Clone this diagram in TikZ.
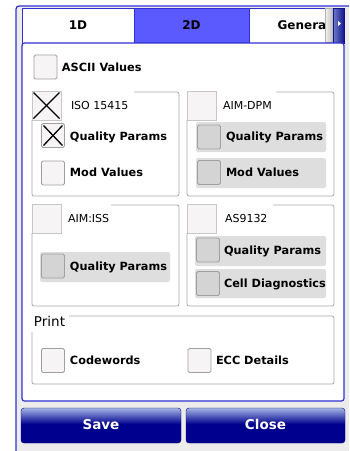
\documentclass[tikz,border=0pt]{standalone}
\usepackage{fontspec}
\setmainfont{DejaVu Sans}
\definecolor{frameblue}{HTML}{3030D0}
\definecolor{tabsel}{HTML}{5A5AFF}
\definecolor{bgc}{HTML}{ECECEC}
\definecolor{grpline}{HTML}{A8A8A8}
\definecolor{cbline}{HTML}{A0A0A0}
\definecolor{cbfill}{HTML}{F7F4F6}
\definecolor{disrow}{HTML}{DEDEDE}
\definecolor{discb}{HTML}{D4D4D4}
\definecolor{btndk}{HTML}{00008E}
\definecolor{btnlt}{HTML}{A4B4E6}
\definecolor{sbdk}{HTML}{10108A}
\definecolor{sblt}{HTML}{6A78C8}
\pgfdeclareverticalshading{btnshade}{100bp}{color(0bp)=(btndk); color(52bp)=(btndk); color(75bp)=(btnlt); color(100bp)=(btnlt)}
\begin{document}
\begin{tikzpicture}[x=1pt,y=-1pt,
  every node/.style={inner sep=0pt, outer sep=0pt},
  lbl/.style={anchor=west, text height=8pt, text depth=2pt, font=\fontsize{11.3}{13}\selectfont\bfseries},
  hdr/.style={anchor=west, text height=8pt, text depth=2pt, font=\fontsize{11}{13}\selectfont},
  cbox/.style={draw=cbline, fill=cbfill, rounded corners=1.5pt, minimum width=23pt, minimum height=24pt, line width=0.8pt},
  dcbox/.style={cbox, fill=discb},
  hbox/.style={draw=black!22, fill=cbfill, minimum width=29pt, minimum height=29pt, line width=0.8pt},
  drow/.style={fill=disrow, rounded corners=2pt, minimum width=130pt, minimum height=30pt},
  grp/.style={draw=grpline, line width=0.8pt, rounded corners=2pt},
  xmark/.style={line width=1.3pt, black},
  tabbox/.style={draw=frameblue, line width=1pt, minimum height=35pt, text height=9pt, text depth=2pt, font=\fontsize{12}{14}\selectfont\bfseries},
  btn/.style={shading=btnshade, draw=btndk!80!black, rounded corners=3pt, minimum width=160pt, minimum height=35pt, text=white, text height=10pt, text depth=2pt, font=\fontsize{13.5}{16}\selectfont\bfseries},
  panel/.style={draw=frameblue, fill=white, line width=1.2pt, rounded corners=2.5pt}
]
\useasboundingbox (0,0) rectangle (349,451);
\fill[white] (0,0) rectangle (349,451);
\fill[bgc] (16,6) rectangle (349,451);
\draw[frameblue, line width=1.2pt, rounded corners=3pt] (16,451) -- (16,6) -- (349,6);

% tabs
\node[tabbox, fill=white, minimum width=112pt] (tab1) at (78,25.5) {1D};
\node[tabbox, fill=tabsel, minimum width=115pt] (tab2) at (191.5,25.5) {2D};
\begin{scope}
\clip (240,0) rectangle (345,60);
\node[tabbox, fill=white, minimum width=110pt] (tab3) at (304,25.5) {General};
\end{scope}
\node[left color=white!92!gray, right color=gray!55, draw=gray!60, minimum width=8pt, minimum height=34pt] (thumb) at (329,25) {};
\node[left color=sblt, right color=sbdk, draw=sbdk, minimum width=11pt, minimum height=35pt] (arrowbtn) at (339,25.5) {};
\fill[white] (338,21) -- (341,23.5) -- (338,26) -- cycle;

% panel
\node[panel, minimum width=322pt, minimum height=358pt] (panel) at (183,222) {};

% ASCII
\node[cbox] (cbAscii) at (45.5,67) {};
\node[lbl] (tAscii) at (62,68) {ASCII Values};

% ISO 15415
\node[hbox] (hIso) at (46.5,105.5) {};
\draw[xmark] ([shift={(1.5pt,-1.5pt)}]hIso.north west) -- ([shift={(-1.5pt,1.5pt)}]hIso.south east);
\draw[xmark] ([shift={(1.5pt,1.5pt)}]hIso.south west) -- ([shift={(-1.5pt,-1.5pt)}]hIso.north east);
\node[hdr] (tIso) at (71,106) {ISO 15415};
\draw[grp] (hIso.south west) -- (32,196) -- (179,196) -- (179,92) -- (134,92);
\node[cbox] (cbIsoQ) at (53,135.5) {};
\draw[xmark] ([shift={(2pt,-2pt)}]cbIsoQ.north west) -- ([shift={(-2pt,2pt)}]cbIsoQ.south east);
\draw[xmark] ([shift={(2pt,2pt)}]cbIsoQ.south west) -- ([shift={(-2pt,-2pt)}]cbIsoQ.north east);
\node[lbl] (tIsoQ) at (70,137) {Quality Params};
\node[cbox] (cbIsoM) at (53,173) {};
\node[lbl] (tIsoM) at (70,173) {Mod Values};

% AIM-DPM
\node[hbox] (hDpm) at (201.5,105.5) {};
\node[hdr] (tDpm) at (223,106) {AIM-DPM};
\draw[grp] (hDpm.south west) -- (187,196) -- (334,196) -- (334,92) -- (276,92);
\node[drow] (rDpmQ) at (261,137) {};
\node[dcbox] (cbDpmQ) at (209,137) {};
\node[lbl] (tDpmQ) at (226,137) {Quality Params};
\node[drow] (rDpmM) at (261,173) {};
\node[dcbox] (cbDpmM) at (209,172.5) {};
\node[lbl] (tDpmM) at (226,173) {Mod Values};

% AIM:ISS
\node[hbox] (hIss) at (46.5,218.5) {};
\node[hdr] (tIss) at (68,219) {AIM:ISS};
\draw[grp] (hIss.south west) -- (32,306) -- (179,306) -- (179,205) -- (111,205);
\node[drow] (rIssQ) at (105,267) {};
\node[dcbox] (cbIssQ) at (53,266) {};
\node[lbl] (tIssQ) at (70,267) {Quality Params};

% AS9132
\node[hbox] (hAs) at (201.5,218.5) {};
\node[hdr] (tAs) at (225,219) {AS9132};
\draw[grp] (hAs.south west) -- (187,306) -- (334,306) -- (334,205) -- (273,205);
\node[drow, minimum width=131pt] (rAsQ) at (260.5,251) {};
\node[dcbox] (cbAsQ) at (208,250) {};
\node[lbl] (tAsQ) at (224,251) {Quality Params};
\node[drow, minimum width=131pt, minimum height=29pt] (rAsC) at (260.5,283.5) {};
\node[dcbox] (cbAsC) at (208,283.5) {};
\node[lbl] (tAsC) at (224,284) {Cell Diagnostics};

% Print
\node[anchor=west, text height=10pt, text depth=3pt, font=\fontsize{13.5}{16}\selectfont] (tPrint) at (34,323) {Print};
\draw[grp] (69,316) -- (334,316) -- (334,384) -- (32,384) -- (32,332);
\node[cbox] (cbCode) at (53,360.5) {};
\node[lbl] (tCode) at (70,361) {Codewords};
\node[cbox] (cbEcc) at (199.5,360.5) {};
\node[lbl] (tEcc) at (216,361) {ECC Details};

% buttons
\node[btn] (bSave) at (101,425.5) {Save};
\node[btn, minimum width=159pt] (bClose) at (265.5,425.5) {Close};
\end{tikzpicture}
\end{document}
